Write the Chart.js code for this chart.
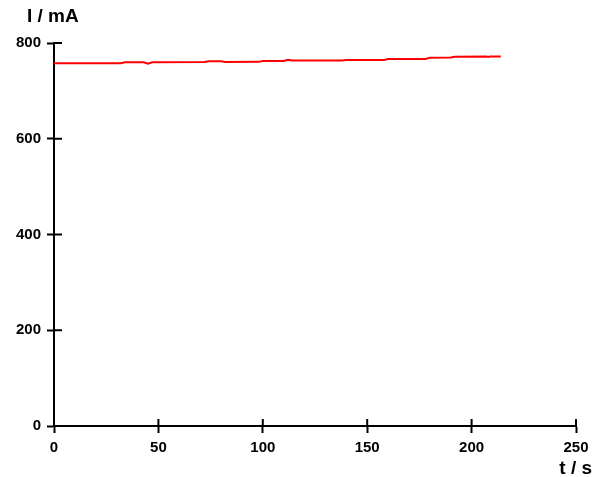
<!DOCTYPE html>
<html>
<head>
<meta charset="utf-8">
<script src="https://cdn.jsdelivr.net/npm/chart.js@4.4.0/dist/chart.umd.min.js"></script>
<style>
  html, body { margin: 0; padding: 0; background: #ffffff; }
  #wrap { width: 602px; height: 477px; }
</style>
</head>
<body>
<div id="wrap"><canvas id="c" width="602" height="477"></canvas></div>
<script>
// ---- data ----
const timeS = [0, 32, 34, 43, 45, 47, 72, 74, 80, 82, 98, 100, 110, 112, 114, 138, 140, 158, 160, 178, 180, 190, 192, 207, 208, 209, 214];
const currentMA = [757.7, 757.8, 759.6, 759.7, 756.6, 759.8, 760.4, 761.8, 761.8, 760.5, 760.6, 762.4, 762.6, 764.8, 763.3, 763.4, 764.5, 764.6, 766.5, 766.7, 769.4, 769.6, 771.4, 771.6, 770.8, 771.6, 771.7];
const xTicks = [0, 50, 100, 150, 200, 250];
const yTicks = [0, 200, 400, 600, 800];
const xTitle = 't / s';
const yTitle = 'I / mA';

const points = timeS.map((t, i) => ({ x: t, y: currentMA[i] }));

const FONT = 'Liberation Sans, Arial, Helvetica, sans-serif';

const innerTicks = {
  id: 'innerTicks',
  afterDraw(chart) {
    const { ctx, chartArea, scales } = chart;
    ctx.save();
    ctx.strokeStyle = '#000000';
    ctx.lineWidth = 2;
    ctx.beginPath();
    yTicks.forEach(v => {
      const y = scales.y.getPixelForValue(v);
      ctx.moveTo(chartArea.left, y);
      ctx.lineTo(chartArea.left + 8, y);
    });
    xTicks.forEach(v => {
      const x = scales.x.getPixelForValue(v);
      ctx.moveTo(x, chartArea.bottom);
      ctx.lineTo(x, chartArea.bottom - 7);
    });
    ctx.stroke();
    // axis titles
    ctx.fillStyle = '#000000';
    ctx.font = 'bold 19px ' + FONT;
    ctx.textBaseline = 'alphabetic';
    ctx.textAlign = 'left';
    ctx.fillText(yTitle, chartArea.left - 27, chartArea.top - 21);
    ctx.textAlign = 'right';
    ctx.fillText(xTitle, chartArea.right + 16, chartArea.bottom + 48);
    ctx.restore();
  }
};

new Chart(document.getElementById('c'), {
  type: 'line',
  data: {
    datasets: [{
      data: points,
      borderColor: '#ff0000',
      borderWidth: 2,
      pointRadius: 0,
      fill: false,
      tension: 0
    }]
  },
  options: {
    responsive: false,
    animation: false,
    devicePixelRatio: 1,
    layout: { padding: { left: 0, top: 43, right: 26, bottom: 0 } },
    plugins: { legend: { display: false }, tooltip: { enabled: false } },
    scales: {
      x: {
        type: 'linear',
        min: 0, max: 250,
        afterBuildTicks(scale) { scale.ticks = xTicks.map(v => ({ value: v })); },
        afterFit(scale) { scale.height = 51; },
        grid: { display: true, drawOnChartArea: false, drawTicks: true, tickLength: 7, tickWidth: 2, tickColor: '#000000' },
        border: { display: true, color: '#000000', width: 2 },
        ticks: { color: '#000000', padding: 6, maxRotation: 0, autoSkip: false, font: { family: FONT, size: 15, weight: 'bold' } }
      },
      y: {
        type: 'linear',
        min: 0, max: 800,
        afterBuildTicks(scale) { scale.ticks = yTicks.map(v => ({ value: v })); },
        afterFit(scale) { scale.width = 54; },
        grid: { display: true, drawOnChartArea: false, drawTicks: true, tickLength: 7, tickWidth: 2, tickColor: '#000000' },
        border: { display: true, color: '#000000', width: 2 },
        ticks: { color: '#000000', padding: 6, autoSkip: false, font: { family: FONT, size: 15, weight: 'bold' } }
      }
    }
  },
  plugins: [innerTicks]
});
</script>
</body>
</html>
